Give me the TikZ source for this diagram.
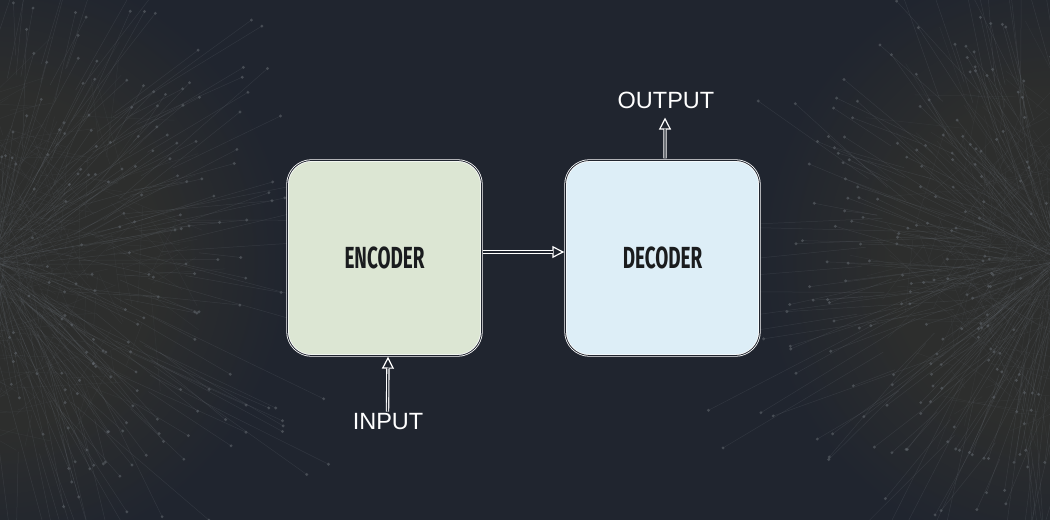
\documentclass[tikz,border=0pt]{standalone}
\usepackage{fontspec}
\setmainfont{Liberation Sans}
\newfontfamily\condfont[FakeStretch=0.62]{Fira Sans}
\usetikzlibrary{arrows.meta,calc}
\definecolor{bg}{HTML}{20252F}
\definecolor{burstc}{HTML}{6A7078}
\definecolor{dotc}{HTML}{646A70}
\definecolor{corec}{HTML}{2D2E2D}
\definecolor{encfill}{HTML}{DCE6D3}
\definecolor{decfill}{HTML}{DDEEF7}
\definecolor{boxtext}{HTML}{1A1C1E}
\pgfdeclareradialshading{coreshade}{\pgfpoint{0bp}{0bp}}{color(0bp)=(corec); color(14bp)=(corec); color(25bp)=(bg); color(50bp)=(bg)}
\tikzset{
  burst/.style={draw=burstc, line width=0.5bp, opacity=0.22},
  burstdot/.style={fill=dotc, opacity=0.55},
  block/.style={rectangle, rounded corners=24bp, minimum width=194bp, minimum height=195bp,
    draw=white, line width=2.4bp, text=boxtext, font=\condfont\bfseries\fontsize{30.5bp}{32bp}\selectfont},
  blockcore/.style={rectangle, rounded corners=24bp, minimum width=194bp, minimum height=195bp,
    draw=bg, line width=0.8bp},
  lbl/.style={text=white, font=\fontsize{23.5bp}{26bp}\selectfont, inner sep=0pt},
  conn/.style={draw=white, line width=3.4bp,
    -{Triangle[length=12bp,width=12bp,fill=bg,line width=1.2bp]}},
  conncore/.style={draw=bg, line width=1.2bp, shorten >=11bp},
}
\begin{document}
\begin{tikzpicture}[x=1bp,y=-1bp]
\useasboundingbox (0,0) rectangle (1050,520);
\fill[bg] (-4,-4) rectangle (1054,524);
\begin{scope}
\clip (0,0) rectangle (1050,520);
% soft cores
\shade[shading=coreshade] (-10,260) circle (300bp);
\shade[shading=coreshade] (1060,260) circle (300bp);
\pgfmathsetseed{17}
\foreach \cx in {-10,1060}{
  \foreach \i in {1,...,480}{
    \pgfmathsetmacro\a{rand*180}
    \pgfmathsetmacro\s{rnd*210}
    \pgfmathsetmacro\b{\a+rand*20}
    \pgfmathsetmacro\r{30+rnd*170}
    \draw[burst] ($(\cx,260)+(\a:\s)$) -- ++(\b:\r) coordinate (e);
    \fill[burstdot] (e) circle (1.6bp);
  }
  \foreach \i in {1,...,500}{
    \pgfmathsetmacro\a{rand*180}
    \pgfmathsetmacro\s{rnd*170}
    \pgfmathsetmacro\b{rand*180}
    \pgfmathsetmacro\r{20+rnd*90}
    \draw[burst, opacity=0.12] ($(\cx,260)+(\a:\s)$) -- ++(\b:\r);
  }
}
\end{scope}
% blocks
\node[block, fill=encfill] (enc) at (384.5,258) {ENCODER};
\node[blockcore] at (enc.center) {};
\node[block, fill=decfill] (dec) at (662.5,258) {DECODER};
\node[blockcore] at (dec.center) {};
\node[lbl] (input) at (388,422) {INPUT};
\node[lbl] (output) at (666,100) {OUTPUT};
\draw[conn] ([yshift=6bp]enc.east) -- ([yshift=6bp]dec.west);
\draw[conncore] ([yshift=6bp]enc.east) -- ([yshift=6bp]dec.west);
\draw[conn, shorten <=2bp] ([xshift=-0.5bp]input.north) -- ([xshift=3.5bp]enc.south);
\draw[conncore, shorten <=2bp] ([xshift=-0.5bp]input.north) -- ([xshift=3.5bp]enc.south);
\draw[conn, shorten <=1bp] ([xshift=2.5bp]dec.north) -- ([xshift=-1bp, yshift=-9bp]output.south);
\draw[conncore, shorten <=1bp] ([xshift=2.5bp]dec.north) -- ([xshift=-1bp, yshift=-9bp]output.south);
\end{tikzpicture}
\end{document}
